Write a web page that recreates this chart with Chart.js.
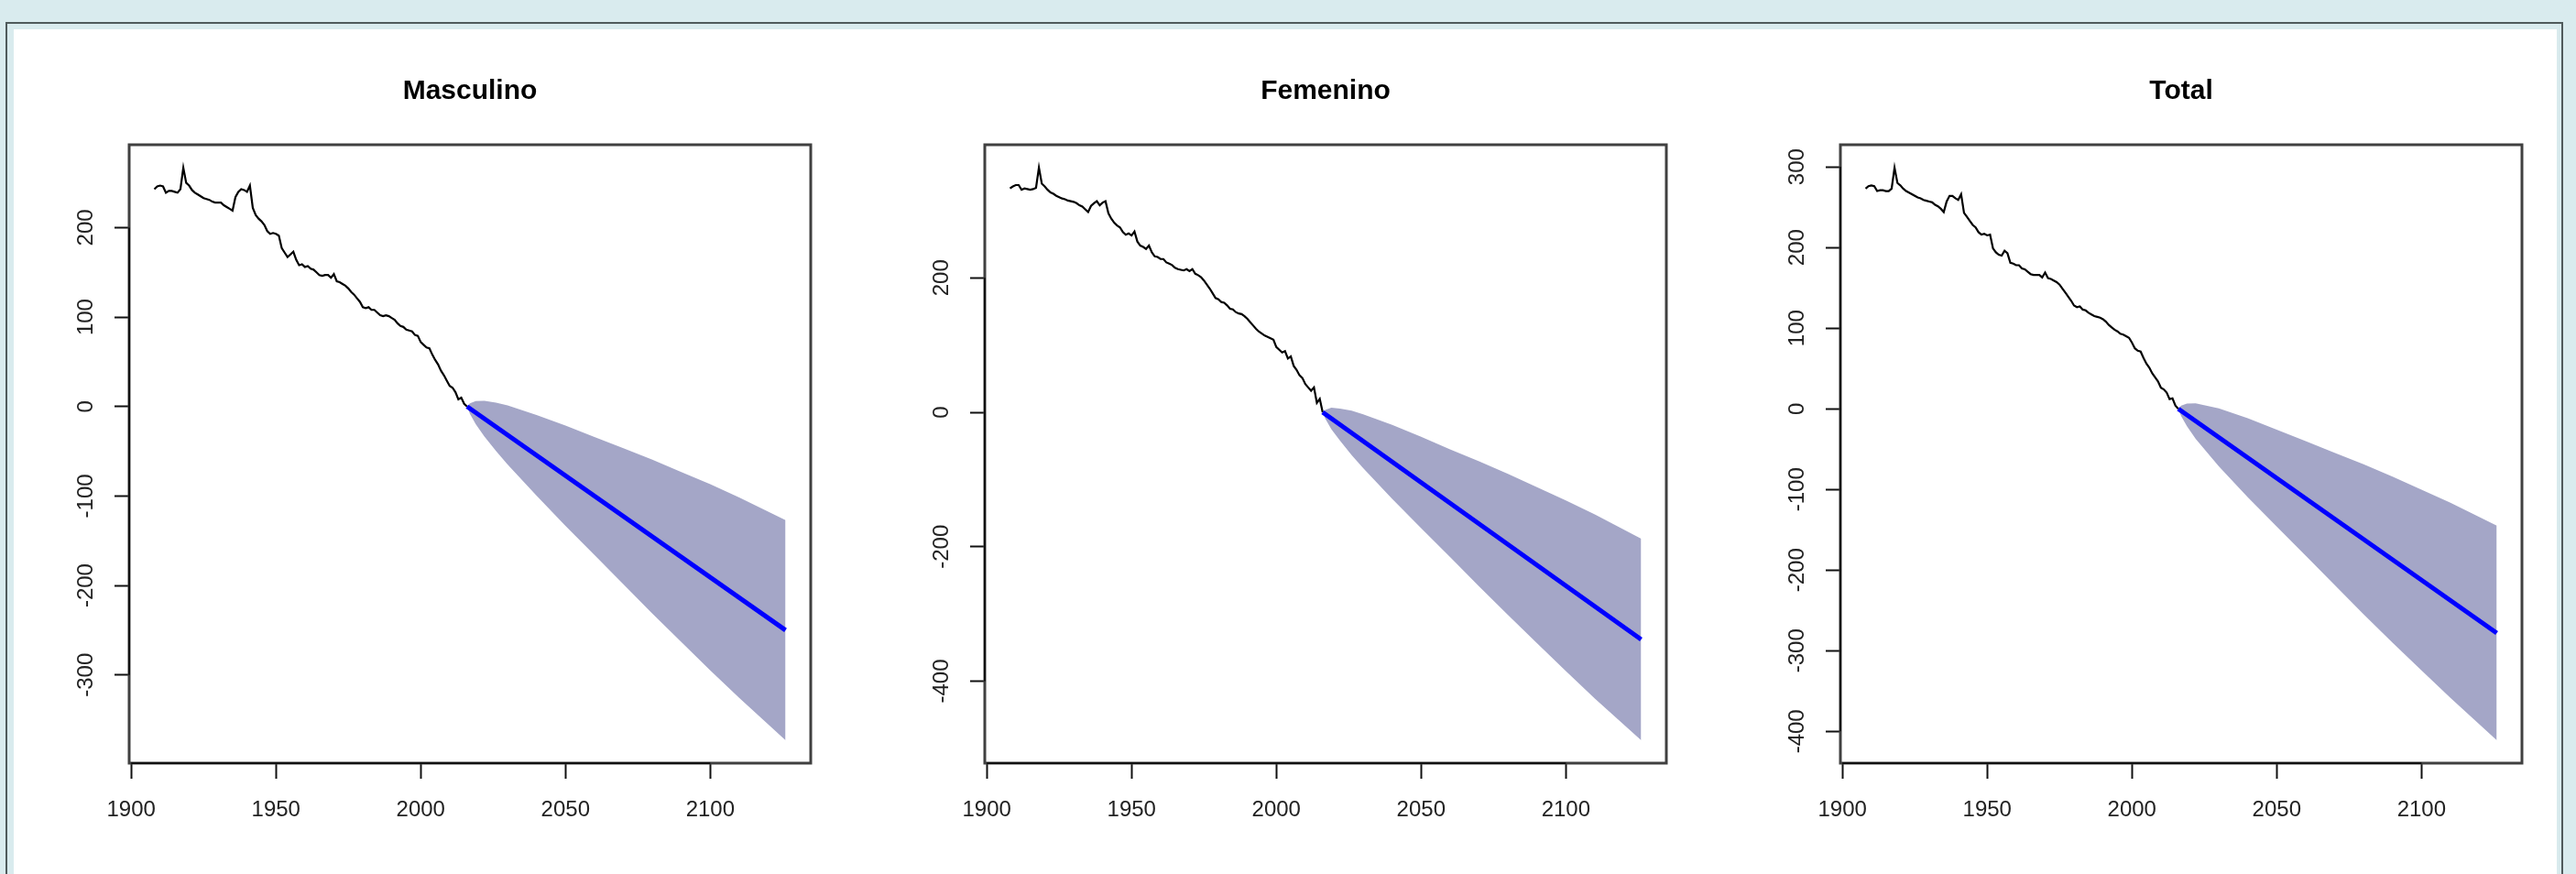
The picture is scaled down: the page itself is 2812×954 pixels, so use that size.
<!DOCTYPE html>
<html>
<head>
<meta charset="utf-8">
<script src="https://cdn.jsdelivr.net/npm/chart.js@4.4.1/dist/chart.umd.min.js"></script>
<style>
  html, body { margin: 0; padding: 0; }
  body { width: 2812px; height: 954px; overflow: hidden; background: #d9ebee; position: relative; font-family: "Liberation Sans", Arial, sans-serif; }
  #outer { position: absolute; left: 6px; top: 24px; width: 2792px; height: 960px; border: 2px solid #4f5a5b; box-sizing: border-box; }
  #sheet { position: absolute; left: 15px; top: 32px; width: 2776px; height: 940px; background: #fff; }
  canvas { position: absolute; top: 40px; }
</style>
</head>
<body>
<div id="outer"></div>
<div id="sheet"></div>
<canvas id="c0" width="884" height="900"></canvas>
<canvas id="c1" width="884" height="900"></canvas>
<canvas id="c2" width="884" height="900"></canvas>
<script>
// observed series, one value per year from firstYear to 2016
const firstYear = 1908;

const masculino = [
  243, 246, 247, 246, 239, 241, 241, 240, 239, 243,
  267, 250, 247, 242, 239, 237, 235, 233, 232, 231,
  229, 228, 228, 228, 225, 223, 221, 219, 234, 240,
  243, 242, 240, 247, 222, 214, 210, 207, 203, 196,
  193, 194, 193, 191, 177, 172, 167, 170, 173, 164,
  158, 159, 156, 157, 154, 153, 150, 147, 146, 147,
  147, 144, 148, 140, 139, 137, 135, 132, 128, 125,
  121, 117, 111, 110, 111, 108, 108, 105, 102, 101,
  102, 101, 99, 97, 93, 90, 89, 86, 85, 84,
  80, 79, 72, 69, 66, 65, 58, 52, 47, 40,
  35, 29, 23, 21, 16, 8, 10, 3, 0
];

const femenino = [
  333, 336, 338, 338, 331, 333, 332, 331, 332, 334,
  364, 340, 336, 331, 327, 325, 322, 320, 318, 317,
  315, 314, 313, 311, 308, 306, 302, 298, 307, 311,
  314, 308, 312, 314, 296, 288, 282, 278, 275, 268,
  264, 266, 263, 269, 254, 248, 246, 243, 248, 238,
  232, 231, 228, 228, 223, 221, 219, 215, 213, 212,
  211, 213, 210, 213, 206, 204, 201, 196, 190, 184,
  177, 170, 168, 164, 163, 159, 154, 153, 149, 147,
  146, 143, 139, 134, 129, 124, 120, 117, 114, 112,
  110, 108, 97, 93, 89, 91, 80, 83, 69, 63,
  55, 51, 42, 37, 32, 37, 14, 20, 0
];

const total = [
  273, 276, 277, 276, 270, 271, 271, 270, 270, 273,
  299, 280, 277, 273, 270, 268, 266, 264, 262, 261,
  259, 258, 257, 256, 253, 251, 248, 244, 257, 264,
  264, 261, 259, 266, 243, 238, 233, 228, 225, 219,
  216, 217, 215, 216, 199, 194, 191, 190, 196, 193,
  181, 180, 178, 178, 174, 173, 170, 167, 166, 166,
  166, 163, 169, 162, 161, 159, 157, 154, 149, 144,
  139, 134, 128, 126, 127, 123, 122, 119, 117, 115,
  114, 113, 111, 108, 104, 101, 98, 96, 93, 92,
  90, 88, 82, 75, 72, 71, 63, 56, 51, 44,
  39, 34, 26, 24, 20, 12, 13, 4, 0
];

// forecast (straight line) and its band
const forecastYears = [2016, 2126];
const masculinoForecast = [0, -250];
const femeninoForecast = [0, -338];
const totalForecast = [0, -278];

const bandYears = [2016, 2017, 2019, 2022, 2026, 2030, 2040, 2050, 2060, 2070, 2080, 2090, 2100, 2110, 2126];
const masculinoUpper = [0, 3.7, 6.2, 6.4, 4.3, 1.2, -9.5, -21.3, -34, -46.7, -59.5, -73.2, -86.9, -101.6, -127];
const masculinoLower = [0, -8.3, -19.8, -33.6, -49.7, -64.8, -99.5, -133.3, -166, -198.7, -231.5, -263.2, -294.9, -325.6, -373];
const femeninoUpper = [0, 3.9, 6.8, 5.6, 2.3, -3, -18.8, -36.5, -55.2, -72.9, -91.7, -111.4, -131.1, -151.9, -188];
const femeninoLower = [0, -10.1, -25.2, -42.4, -63.7, -83, -128.8, -172.5, -215.2, -258.9, -301.7, -343.4, -385.1, -425.9, -488];
const totalUpper = [0, 4, 6.4, 6.8, 3.7, 0.6, -11.6, -25.9, -40.2, -54.5, -68.7, -84, -100.3, -116.5, -145];
const totalLower = [0, -9, -21.6, -37.2, -54.3, -71.4, -109.6, -145.9, -182.2, -218.5, -254.7, -290, -324.3, -358.5, -411];

// axis ticks
const xTicks = [1900, 1950, 2000, 2050, 2100];
const masculinoTicks = [-300, -200, -100, 0, 100, 200];
const femeninoTicks = [-400, -200, 0, 200];
const totalTicks = [-400, -300, -200, -100, 0, 100, 200, 300];

const panels = [
  { id: 'c0', title: 'Masculino', boxLeft: 141, obs: masculino, fc: masculinoForecast, up: masculinoUpper, lo: masculinoLower, ticks: masculinoTicks, min: -398.6, max: 292.6 },
  { id: 'c1', title: 'Femenino', boxLeft: 1075, obs: femenino, fc: femeninoForecast, up: femeninoUpper, lo: femeninoLower, ticks: femeninoTicks, min: -522, max: 398 },
  { id: 'c2', title: 'Total', boxLeft: 2009, obs: total, fc: totalForecast, up: totalUpper, lo: totalLower, ticks: totalTicks, min: -439.4, max: 327.4 }
];

const FONT = '"Liberation Sans", Arial, sans-serif';

// R style box + axis lines (first to last tick)
const rFrame = {
  id: 'rFrame',
  afterDraw(chart) {
    const { ctx, chartArea: a, scales: { x, y } } = chart;
    ctx.save();
    ctx.strokeStyle = '#404040';
    ctx.lineWidth = 3;
    ctx.strokeRect(a.left, a.top, a.right - a.left, a.bottom - a.top);
    ctx.strokeStyle = '#111';
    ctx.lineWidth = 2;
    ctx.beginPath();
    ctx.moveTo(x.getPixelForValue(x.ticks[0].value), a.bottom);
    ctx.lineTo(x.getPixelForValue(x.ticks[x.ticks.length - 1].value), a.bottom);
    ctx.moveTo(a.left, y.getPixelForValue(y.ticks[0].value));
    ctx.lineTo(a.left, y.getPixelForValue(y.ticks[y.ticks.length - 1].value));
    ctx.stroke();
    ctx.restore();
  }
};

const toPoints = (xs, ys) => xs.map((v, i) => ({ x: v, y: ys[i] }));

panels.forEach((p) => {
  const canvas = document.getElementById(p.id);
  canvas.style.left = (p.boxLeft - 120) + 'px';
  const obsPoints = p.obs.map((v, i) => ({ x: firstYear + i, y: v }));

  new Chart(canvas, {
    type: 'line',
    data: {
      datasets: [
        { data: toPoints(forecastYears, p.fc), borderColor: '#0000ff', borderWidth: 5, pointRadius: 0, fill: false },
        { data: obsPoints, borderColor: '#000', borderWidth: 2.2, pointRadius: 0, fill: false },
        { data: toPoints(bandYears, p.up), borderWidth: 0, borderColor: 'rgba(0,0,0,0)', pointRadius: 0, backgroundColor: '#a4a6c7', fill: '+1' },
        { data: toPoints(bandYears, p.lo), borderWidth: 0, borderColor: 'rgba(0,0,0,0)', pointRadius: 0, fill: false }
      ]
    },
    options: {
      responsive: false,
      animation: false,
      devicePixelRatio: 1,
      layout: { padding: { left: 0, right: 20, top: 0, bottom: 7 } },
      plugins: {
        legend: { display: false },
        tooltip: { enabled: false },
        title: {
          display: true,
          text: p.title,
          fullSize: false,
          color: '#000',
          font: { family: FONT, size: 30, weight: 'bold', lineHeight: 1.2 },
          padding: { top: 42, bottom: 40 }
        }
      },
      scales: {
        x: {
          type: 'linear',
          min: 1899.3,
          max: 2134.7,
          afterBuildTicks: (s) => { s.ticks = xTicks.map((v) => ({ value: v })); },
          afterFit: (s) => { s.height = 100; },
          grid: { drawOnChartArea: false, drawTicks: true, tickLength: 17, tickColor: '#111', tickWidth: 2 },
          border: { display: false },
          ticks: {
            color: '#222',
            font: { family: FONT, size: 24 },
            padding: 20,
            maxRotation: 0,
            autoSkip: false,
            callback: (v) => String(v)
          }
        },
        y: {
          type: 'linear',
          min: p.min,
          max: p.max,
          afterBuildTicks: (s) => { s.ticks = p.ticks.map((v) => ({ value: v })); },
          afterFit: (s) => { s.width = 120; },
          grid: { drawOnChartArea: false, drawTicks: true, tickLength: 16, tickColor: '#111', tickWidth: 2 },
          border: { display: false },
          ticks: {
            color: '#222',
            font: { family: FONT, size: 24 },
            padding: 7,
            minRotation: 90,
            maxRotation: 90,
            crossAlign: 'center',
            autoSkip: false,
            callback: (v) => String(v)
          }
        }
      }
    },
    plugins: [rFrame]
  });
});
</script>
</body>
</html>
